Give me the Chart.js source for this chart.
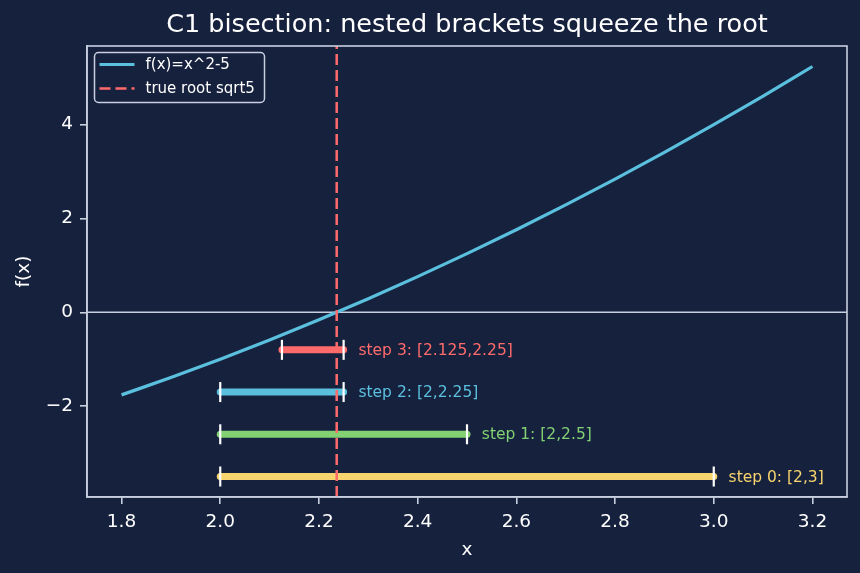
<!DOCTYPE html>
<html>
<head>
<meta charset="utf-8">
<title>C1 bisection</title>
<script src="https://cdn.jsdelivr.net/npm/chart.js@4.4.1/dist/chart.umd.min.js"></script>
<style>
    html, body { margin: 0; padding: 0; background: #16213e; }
    #bisectChart { display: block; }
</style>
</head>
<body>
<canvas id="bisectChart" width="860" height="573"></canvas>
<script>
// Curve f(x) = x^2 - 5
const curveX = [1.8, 1.9, 2.0, 2.1, 2.2, 2.3, 2.4, 2.5, 2.6, 2.7, 2.8, 2.9, 3.0, 3.1, 3.2];
const curveY = [-1.76, -1.39, -1.0, -0.59, -0.16, 0.29, 0.76, 1.25, 1.76, 2.29, 2.84, 3.41, 4.0, 4.61, 5.24];

// True root
const rootX = 2.236;

// Bisection brackets
const stepNames = ['step 0: [2,3]', 'step 1: [2,2.5]', 'step 2: [2,2.25]', 'step 3: [2.125,2.25]'];
const stepLo = [2, 2, 2, 2.125];
const stepHi = [3, 2.5, 2.25, 2.25];
const stepY = [-3.5, -2.6, -1.7, -0.8];

// Axes
const xTicks = [1.8, 2.0, 2.2, 2.4, 2.6, 2.8, 3.0, 3.2];
const yTicks = [-2, 0, 2, 4];
const xRange = [1.73, 3.27];
const yRange = [-3.937, 5.677];

// Styles
const bgColor = '#16213e';
const frameColor = '#c8d0e0';
const textColor = '#ffffff';
const curveColor = '#5bc0de';
const rootColor = '#ff6b6b';
const stepColors = ['#f7d46d', '#82d173', '#5bc0de', '#ff6b6b'];
const fontFamily = '"DejaVu Sans", "Liberation Sans", sans-serif';

document.addEventListener('DOMContentLoaded', function() {
    const datasets = [];

    datasets.push({
        label: 'true root sqrt5',
        data: [{ x: rootX, y: yRange[0] }, { x: rootX, y: yRange[1] }],
        borderColor: rootColor,
        borderWidth: 2.5,
        borderDash: [11, 5],
        pointRadius: 0,
        order: 0
    });

    datasets.push({
        label: 'f(x)=x^2-5',
        data: curveX.map((x, i) => ({ x: x, y: curveY[i] })),
        borderColor: curveColor,
        borderWidth: 3.2,
        cubicInterpolationMode: 'monotone',
        pointRadius: 0,
        order: 1
    });

    stepNames.forEach((name, i) => {
        datasets.push({
            label: name,
            data: [{ x: stepLo[i], y: stepY[i] }, { x: stepHi[i], y: stepY[i] }],
            borderColor: stepColors[i],
            borderWidth: 7,
            borderCapStyle: 'round',
            pointStyle: 'line',
            rotation: 90,
            pointRadius: 10,
            pointBorderColor: '#ffffff',
            pointBorderWidth: 2.2,
            order: 2
        });
    });

    // Background, zero line, frame, bracket labels and legend
    const decorations = {
        id: 'decorations',
        beforeDraw(chart) {
            const ctx = chart.ctx;
            ctx.save();
            ctx.fillStyle = bgColor;
            ctx.fillRect(0, 0, chart.width, chart.height);
            ctx.restore();
        },
        beforeDatasetsDraw(chart) {
            const { ctx, chartArea, scales } = chart;
            const y0 = scales.y.getPixelForValue(0);
            ctx.save();
            ctx.strokeStyle = frameColor;
            ctx.lineWidth = 1.5;
            ctx.beginPath();
            ctx.moveTo(chartArea.left, y0);
            ctx.lineTo(chartArea.right, y0);
            ctx.stroke();
            ctx.restore();
        },
        afterDatasetsDraw(chart) {
            const { ctx, scales } = chart;
            ctx.save();
            ctx.font = '15.5px ' + fontFamily;
            ctx.textAlign = 'left';
            ctx.textBaseline = 'middle';
            stepNames.forEach((name, i) => {
                ctx.fillStyle = stepColors[i];
                ctx.fillText(name, scales.x.getPixelForValue(stepHi[i] + 0.03), scales.y.getPixelForValue(stepY[i]) + 1);
            });
            ctx.restore();
        },
        afterDraw(chart) {
            const { ctx, chartArea } = chart;
            ctx.save();
            // full box frame
            ctx.strokeStyle = frameColor;
            ctx.lineWidth = 1.6;
            ctx.strokeRect(chartArea.left, chartArea.top, chartArea.right - chartArea.left, chartArea.bottom - chartArea.top);

            // legend box
            const lx = 94.5, ly = 52.5, lw = 170, lh = 50;
            ctx.beginPath();
            ctx.roundRect(lx, ly, lw, lh, 4);
            ctx.fillStyle = bgColor;
            ctx.fill();
            ctx.lineWidth = 1.5;
            ctx.strokeStyle = frameColor;
            ctx.stroke();

            const items = [chart.data.datasets[1], chart.data.datasets[0]];
            items.forEach((ds, i) => {
                const yy = ly + 12 + i * 24;
                ctx.beginPath();
                ctx.strokeStyle = ds.borderColor;
                ctx.lineWidth = ds.borderWidth;
                ctx.setLineDash(ds.borderDash || []);
                ctx.moveTo(lx + 5, yy);
                ctx.lineTo(lx + 40, yy);
                ctx.stroke();
                ctx.setLineDash([]);
                ctx.fillStyle = textColor;
                ctx.font = '15px ' + fontFamily;
                ctx.textBaseline = 'middle';
                ctx.fillText(ds.label, lx + 51, yy + 1);
            });
            ctx.restore();
        }
    };

    const ctx = document.getElementById('bisectChart').getContext('2d');
    const bisectChart = new Chart(ctx, {
        type: 'line',
        data: { datasets: datasets },
        options: {
            responsive: false,
            animation: false,
            layout: { padding: { left: 0, right: 13, top: 0, bottom: 0 } },
            plugins: {
                legend: { display: false },
                tooltip: { enabled: false },
                title: {
                    display: true,
                    text: 'C1 bisection: nested brackets squeeze the root',
                    fullSize: false,
                    color: textColor,
                    font: { family: fontFamily, size: 25.5, weight: 'normal' },
                    padding: { top: 10, bottom: 5.4 }
                }
            },
            scales: {
                x: {
                    type: 'linear',
                    min: xRange[0],
                    max: xRange[1],
                    afterBuildTicks: scale => { scale.ticks = xTicks.map(v => ({ value: v })); },
                    afterFit: scale => { scale.height = 76; },
                    ticks: {
                        color: textColor,
                        padding: 7,
                        font: { family: fontFamily, size: 18.5 },
                        callback: v => v.toFixed(1)
                    },
                    grid: { drawOnChartArea: false, color: frameColor, lineWidth: 1.6, tickLength: 7 },
                    border: { display: true, color: frameColor, width: 1.6 },
                    title: {
                        display: true,
                        text: 'x',
                        color: textColor,
                        font: { family: fontFamily, size: 18.5 },
                        padding: { top: 0, bottom: 12 }
                    }
                },
                y: {
                    type: 'linear',
                    min: yRange[0],
                    max: yRange[1],
                    afterBuildTicks: scale => { scale.ticks = yTicks.map(v => ({ value: v })); },
                    afterFit: scale => { scale.width = 87; },
                    ticks: {
                        color: textColor,
                        padding: 7,
                        font: { family: fontFamily, size: 18.5 },
                        callback: v => (v < 0 ? '\u2212' + Math.abs(v) : String(v))
                    },
                    grid: { drawOnChartArea: false, color: frameColor, lineWidth: 1.6, tickLength: 7 },
                    border: { display: true, color: frameColor, width: 1.6 },
                    title: {
                        display: true,
                        text: 'f(x)',
                        color: textColor,
                        font: { family: fontFamily, size: 18.5 },
                        padding: { top: 13, bottom: 0 }
                    }
                }
            }
        },
        plugins: [decorations]
    });
});
</script>
</body>
</html>
